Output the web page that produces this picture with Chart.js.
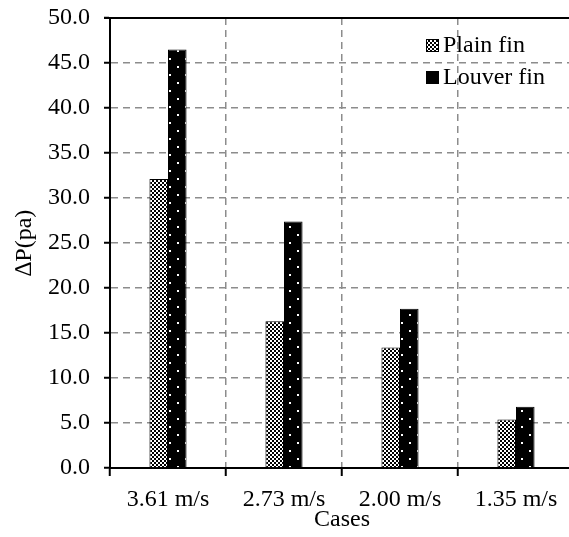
<!DOCTYPE html>
<html>
<head>
<meta charset="utf-8">
<script src="https://cdn.jsdelivr.net/npm/chart.js@4"></script>
<style>
  html, body { margin: 0; padding: 0; background: #fff; overflow: hidden; }
  #wrap { width: 574px; height: 537px; position: relative; }
</style>
</head>
<body>
<div id="wrap"><canvas id="graph-dp"></canvas></div>
<script>
const categories = ['3.61 m/s', '2.73 m/s', '2.00 m/s', '1.35 m/s'];
const plainFin = [32.1, 16.3, 13.4, 5.4];
const louverFin = [46.5, 27.4, 17.7, 6.8];
const seriesNames = ['Plain fin', 'Louver fin'];
const yTicks = [0, 5, 10, 15, 20, 25, 30, 35, 40, 45, 50];

const FONT = '"Liberation Serif", "Times New Roman", serif';

function checkerPattern() {
  const c = document.createElement('canvas');
  c.width = 4; c.height = 4;
  const g = c.getContext('2d');
  g.fillStyle = '#fff';
  g.fillRect(0, 0, 4, 4);
  g.fillStyle = '#000';
  g.fillRect(0, 0, 2, 2);
  g.fillRect(2, 2, 2, 2);
  return g.createPattern(c, 'repeat');
}

function dotPattern() {
  const c = document.createElement('canvas');
  c.width = 16; c.height = 16;
  const g = c.getContext('2d');
  g.fillStyle = '#000';
  g.fillRect(0, 0, 16, 16);
  g.fillStyle = '#fff';
  g.fillRect(1, 2, 2, 2);
  g.fillRect(9, 10, 2, 2);
  return g.createPattern(c, 'repeat');
}

const fills = [checkerPattern(), dotPattern()];

// legend drawn inside the plot, top right
const boxLegend = {
  id: 'boxLegend',
  afterDraw(chart) {
    const ctx = chart.ctx;
    const area = chart.chartArea;
    ctx.save();
    ctx.font = '24px ' + FONT;
    ctx.textBaseline = 'middle';
    chart.data.datasets.forEach((ds, i) => {
      const x = area.right - 148;
      const y = area.top + 21 + i * 32;
      ctx.fillStyle = i === 0 ? fills[0] : '#000';
      ctx.fillRect(x, y, 13, 13);
      ctx.strokeStyle = '#000';
      ctx.lineWidth = 1;
      ctx.strokeRect(x + 0.5, y + 0.5, 12, 12);
      ctx.fillStyle = '#000';
      ctx.fillText(ds.label, x + 17, y + 7);
    });
    ctx.restore();
  }
};

// solid top border of the plot
const topLine = {
  id: 'topLine',
  afterDatasetsDraw(chart) {
    const ctx = chart.ctx;
    const a = chart.chartArea;
    ctx.save();
    ctx.strokeStyle = '#000';
    ctx.lineWidth = 2;
    ctx.beginPath();
    ctx.moveTo(a.left - 6, a.top);
    ctx.lineTo(a.right, a.top);
    ctx.stroke();
    ctx.restore();
  }
};

Chart.defaults.font.family = FONT;
Chart.defaults.color = '#000';

new Chart(document.getElementById('graph-dp'), {
  type: 'bar',
  data: {
    labels: categories,
    datasets: [
      { label: seriesNames[0], data: plainFin, backgroundColor: fills[0], borderColor: '#000', borderWidth: 1 },
      { label: seriesNames[1], data: louverFin, backgroundColor: fills[1], borderColor: '#000', borderWidth: 1 }
    ]
  },
  options: {
    responsive: true,
    maintainAspectRatio: false,
    animation: false,
    layout: { padding: { top: 18, left: 0, right: 0, bottom: 0 } },
    datasets: { bar: { categoryPercentage: 0.32, barPercentage: 1 } },
    plugins: {
      legend: { display: false },
      tooltip: { enabled: false }
    },
    scales: {
      x: {
        afterFit(scale) {
          scale.height = 69;
          scale.paddingLeft = 0;
          scale.paddingRight = 0;
        },
        grid: {
          offset: true,
          color: '#8c8c8c',
          lineWidth: 1.5,
          tickColor: '#000',
          tickLength: 8,
          tickWidth: 2,
          tickBorderDash: []
        },
        border: { color: '#000', width: 2, dash: [7, 5] },
        ticks: { font: { size: 24 }, padding: 9, color: '#000' },
        title: { display: true, text: 'Cases', font: { size: 24 }, padding: { top: 0, bottom: 3 }, color: '#000' }
      },
      y: {
        min: 0,
        max: 50,
        afterFit(scale) {
          scale.width = 110;
          scale.paddingTop = 0;
          scale.paddingBottom = 0;
        },
        afterBuildTicks(scale) { scale.ticks = yTicks.map(v => ({ value: v })); },
        grid: {
          color: ctx => ctx.tick && (ctx.tick.value === 0 || ctx.tick.value === 50) ? 'rgba(0,0,0,0)' : '#8c8c8c',
          lineWidth: 1.5,
          tickColor: '#000',
          tickLength: 6,
          tickWidth: 2,
          tickBorderDash: []
        },
        border: { color: '#000', width: 2, dash: [7, 5] },
        ticks: { font: { size: 24 }, padding: 14, color: '#000', callback: v => Number(v).toFixed(1) },
        title: { display: true, text: '\u2206P(pa)', font: { size: 24 }, padding: { top: 10, bottom: 0 }, color: '#000' }
      }
    }
  },
  plugins: [boxLegend, topLine]
});
</script>
</body>
</html>
